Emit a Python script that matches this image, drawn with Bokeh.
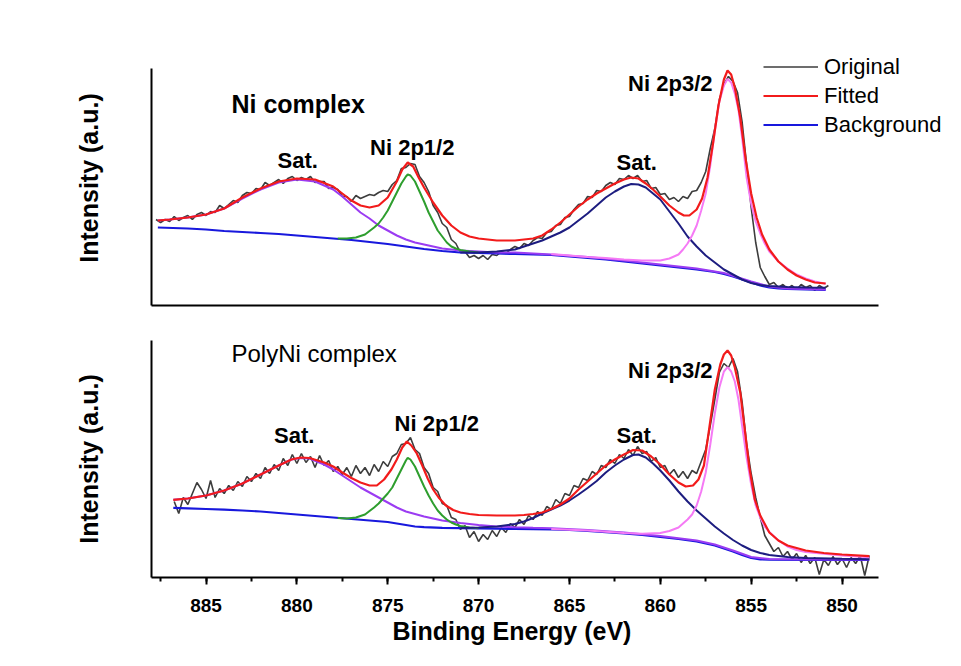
import numpy as np
from bokeh.plotting import figure
from bokeh.models import Range1d, Label, Legend, LegendItem, FixedTicker, SingleIntervalTicker, Title
from bokeh.layouts import column
from bokeh.embed import file_html
from bokeh.resources import INLINE

FONT = "Liberation Sans"

# ---------------- data (binding energy in eV, intensity in a.u.) ----------------
# Top panel: Ni complex
TOP_ORIG_START, TOP_ORIG_END = 887.75, 850.75
TOP_ORIG = [
    86, 83, 86, 84, 89, 85, 88, 90, 86, 91,
    93, 90, 94, 93, 100, 97, 101, 105, 103, 110,
    113, 112, 117, 116, 123, 120, 123, 126, 122, 127,
    129, 125, 128, 126, 129, 123, 124, 124, 117, 118,
    116, 109, 109, 104, 110, 107, 109, 111, 110, 113,
    115, 114, 121, 125, 137, 138, 142, 141, 129, 123,
    114, 100, 93, 82, 78, 66, 62, 53, 54, 48,
    50, 47, 50, 46, 51, 50, 54, 52, 56, 59,
    57, 62, 60, 65, 68, 67, 73, 74, 80, 81,
    88, 89, 96, 101, 102, 109, 108, 115, 114, 120,
    123, 121, 127, 126, 130, 127, 130, 124, 125, 117,
    118, 111, 112, 106, 108, 104, 109, 107, 114, 115,
    123, 134, 157, 177, 206, 221, 229, 224, 213, 184,
    141, 98, 63, 38, 29, 21, 23, 18, 21, 17,
    20, 16, 21, 18, 20, 15, 20, 17, 20,
]

TOP_BG_E = [887.65, 886, 885, 884, 883, 882, 881, 880, 879, 878, 877, 876, 875, 874, 873, 872, 871, 870,
            869, 868, 867, 866, 865, 864, 863, 862, 861, 860, 859, 858, 857, 856.5, 856, 855.5, 855,
            854.5, 854, 853.5, 853, 852, 850.9]
TOP_BG_Y = [78, 77, 76, 74.5, 73.5, 72.5, 71.5, 70, 68.5, 67, 65.5, 63.5, 61.5, 59, 56.5, 54.5, 53, 52.5,
            52, 51.5, 51, 50.5, 49, 47.5, 46, 44, 42, 40, 38, 36, 33.5, 31.5, 29, 26, 23,
            20, 18, 17, 16.5, 16, 15.7]

TOP_FIT_E = [887.65, 887, 886, 885, 884, 883, 882, 881, 880, 879, 878, 877.5, 877, 876.5, 876, 875.5, 875,
             874.5, 874.2, 873.9, 873.6, 873.3, 873, 872.5, 872, 871.5, 871, 870.5, 870, 869, 868, 867,
             866.5, 866, 865.5, 865, 864.5, 864, 863.5, 863, 862.5, 862, 861.6, 861.2, 860.8, 860.4, 860,
             859.5, 859, 858.7, 858.4, 858, 857.7, 857.4, 857.1, 856.8, 856.5, 856.3, 856.1, 855.9, 855.6,
             855.3, 855, 854.7, 854.4, 854, 853.5, 853, 852.5, 852, 851.5, 850.9]
TOP_FIT_Y = [85, 86, 88, 91, 97, 108, 117, 124, 127, 126, 119, 112, 105, 100, 98, 100, 108,
             124, 136, 143, 139, 128, 118, 103, 90, 80, 73, 69, 67, 65, 65, 67,
             70, 76, 83, 91, 99, 106, 112, 117, 122, 126, 128, 127, 122, 116, 109,
             100, 93, 90, 90, 96, 107, 128, 162, 200, 226, 235, 231, 218, 188,
             146, 112, 88, 71, 56, 44, 36, 30, 26, 23, 22]

TOP_SAT1_E = [887.65, 887, 886, 885, 884, 883, 882, 881, 880, 879, 878, 877.5, 877, 876.5, 876, 875.5, 875,
              874.5, 874, 873.5, 873, 872.5, 872, 871, 870, 869, 868, 867, 866, 864, 862, 860, 858, 856.5,
              855, 854, 853, 850.9]
TOP_SAT1_Y = [85, 86, 88, 91, 97, 107, 116, 123, 126, 124, 116, 109, 101, 93, 87, 80, 75,
              70, 66, 63, 61, 59, 57, 55, 54, 53, 53, 52, 51, 48.5, 45, 41, 37, 32.5,
              24, 19, 17, 16]

TOP_P12_E = [877.75, 877.25, 876.75, 876.25, 875.75, 875.5, 875.25, 875, 874.75, 874.5, 874.25, 874, 873.9,
             873.75, 873.5, 873.25, 873, 872.75, 872.5, 872.25, 872, 871.75, 871.5, 871.25, 871, 870.5, 870]
TOP_P12_Y = [67, 67, 68, 71, 78, 82, 88, 95, 104, 113, 122, 129, 131,
             130, 124, 114, 104, 93, 84, 75, 69, 63, 59, 57, 55.5, 54, 53]

TOP_SAT2_E = [871, 870, 869, 868, 867.5, 867, 866.5, 866, 865.5, 865, 864.5, 864, 863.5, 863, 862.5, 862,
              861.6, 861.2, 860.8, 860.4, 860, 859.5, 859, 858.5, 858, 857.5, 857, 856.5, 856, 855.5, 855,
              854.5, 854, 853, 852, 850.9]
TOP_SAT2_Y = [53, 53, 54, 56, 59, 62, 65, 69, 73, 78, 85, 92, 100, 108, 114, 119,
              121.5, 121, 118, 112, 106, 94, 82, 69, 59, 50, 43, 36, 31, 26, 22.5,
              20.5, 19.5, 18.5, 18, 17.7]

TOP_P32_E = [866, 865, 864, 863, 862, 861, 860, 859.5, 859, 858.75, 858.5, 858.25, 858, 857.75, 857.5,
             857.25, 857, 856.75, 856.5, 856.3, 856.1, 855.9, 855.7, 855.5, 855.25, 855, 854.75, 854.5,
             854.25, 854, 853.5, 853, 852.5, 852, 851.5, 850.9]
TOP_P32_Y = [51.5, 50, 48.5, 47.5, 46, 45, 45, 47, 51, 56, 62, 70, 80, 95, 112,
             140, 175, 204, 220, 226.5, 223, 212, 196, 168, 128, 102, 84, 72,
             62, 54, 44, 37, 31, 27, 24, 21.7]

# Bottom panel: PolyNi complex
BOT_ORIG_START, BOT_ORIG_END = 886.75, 848.5
BOT_ORIG = [
    76, 64, 80, 73, 84, 95, 88, 79, 97, 80,
    89, 84, 92, 87, 96, 91, 101, 96, 104, 99,
    110, 104, 113, 107, 119, 112, 123, 114, 124, 115,
    121, 110, 122, 112, 117, 106, 111, 103, 110, 101,
    112, 104, 110, 102, 113, 106, 116, 111, 121, 124,
    133, 134, 140, 128, 124, 110, 104, 90, 86, 74,
    72, 60, 58, 48, 52, 40, 46, 36, 43, 38,
    47, 41, 50, 45, 54, 50, 58, 53, 62, 58,
    66, 62, 71, 68, 78, 74, 84, 82, 92, 90,
    99, 97, 106, 103, 112, 110, 118, 114, 123, 119,
    128, 122, 131, 124, 126, 116, 120, 110, 112, 103,
    108, 100, 106, 99, 107, 104, 116, 128, 152, 178,
    205, 214, 210, 219, 206, 176, 134, 104, 80, 60,
    42, 34, 26, 30, 21, 26, 18, 24, 15, 22,
    14, 20, 3, 18, 12, 21, 13, 19, 10, 20,
    14, 22, 2, 22,
]

BOT_BG_E = [886.8, 886, 885, 884, 883, 882, 881, 880, 879, 878, 877, 876, 875, 874.5, 874, 873.5, 873, 872,
            871, 870, 869, 868, 867, 866, 865, 864, 863, 862, 861, 860, 859, 858, 857, 856.5, 856, 855.5,
            855, 854.5, 854, 852, 848.5]
BOT_BG_Y = [69.7, 69.2, 68.5, 67.8, 67, 66, 64.5, 63, 61.5, 60, 58.5, 57, 55.5, 54, 52.5, 51, 50.3, 49.7,
            49.3, 49, 48.8, 48.6, 48.3, 48, 47.5, 46.5, 45.3, 44, 42.5, 40.5, 38.5, 36, 32, 29, 26, 22.5,
            19.5, 18.2, 17.8, 17.7, 17.7]

BOT_FIT_E = [886.8, 886, 885, 884, 883, 882, 881, 880.3, 879.8, 879.3, 878.5, 878, 877.5, 877, 876.5, 876,
             875.6, 875.2, 874.8, 874.5, 874.2, 873.95, 873.7, 873.4, 873.1, 872.8, 872.5, 872.2, 871.8,
             871.4, 871, 870.5, 870, 869, 868, 867.5, 867, 866.5, 866, 865.5, 865, 864.5, 864, 863.5, 863,
             862.5, 862, 861.5, 861, 860.5, 860, 859.5, 859, 858.6, 858.2, 857.9, 857.6, 857.3, 857, 856.7,
             856.5, 856.3, 856.1, 855.9, 855.6, 855.4, 855.1, 854.8, 854.5, 854, 853.5, 853, 852, 851, 850,
             848.5]
BOT_FIT_Y = [77.7, 79, 82, 87, 94, 103, 112, 118, 120, 119.5, 115, 111, 105, 99.5, 95, 92,
             92, 98, 108, 118, 130, 136, 132, 124, 112, 99, 88, 80, 72,
             67.5, 65, 63.5, 62.5, 62, 62, 62.5, 63.5, 65, 68.5, 73, 79, 88, 96, 104, 112,
             118, 123, 127.5, 127, 121, 113, 103, 95, 91, 92, 98, 112, 150, 188, 213,
             223, 227, 222, 210, 185, 155, 110, 78, 62, 45, 37, 32, 27, 24.5, 23,
             21.3]

BOT_SAT1_E = [886.8, 886, 885, 884, 883, 882, 881, 880.3, 879.8, 879.3, 878.5, 878, 877.5, 877, 876.5, 876,
              875.5, 875, 874.5, 874, 873.5, 873, 872.5, 872, 871, 870, 869, 868, 867, 866, 864, 862, 860,
              858, 857, 856, 855, 854, 852, 848.5]
BOT_SAT1_Y = [77.7, 79, 82, 87, 94, 103, 112, 118, 119.5, 119, 113, 108, 102, 96, 90, 85,
              80, 75, 70, 66, 63.5, 61, 59, 57, 54.5, 52.5, 51, 50.3, 49.7, 49.2, 47.5, 45, 41.5,
              37, 33, 27, 20.5, 18.5, 18, 17.9]

BOT_P12_E = [877.75, 877.25, 876.75, 876.25, 875.75, 875.5, 875.25, 875, 874.75, 874.5, 874.25, 874, 873.9,
             873.75, 873.5, 873.25, 873, 872.75, 872.5, 872.25, 872, 871.75, 871.5, 871.25, 871, 870.5, 870]
BOT_P12_Y = [59.5, 59, 60, 63, 70, 74, 79, 84, 90, 99, 108, 117, 119.7,
             118, 111, 101, 91, 82, 74, 67, 62, 58, 55, 53, 51.5, 50, 49.2]

BOT_SAT2_E = [871, 870, 869, 868, 867.5, 867, 866.5, 866, 865.5, 865, 864.5, 864, 863.5, 863, 862.5, 862,
              861.5, 861.2, 860.8, 860.4, 860, 859.5, 859, 858.5, 858, 857.5, 857, 856.5, 856, 855.5, 855,
              854.5, 854, 853, 852, 850, 848.5]
BOT_SAT2_Y = [49.5, 50, 51, 53.5, 56, 59.5, 64, 68, 72, 77, 83, 89.5, 96.5, 105, 112, 118,
              122.5, 123, 120, 114, 107, 97, 86, 76, 67, 59, 51, 44, 37.5, 32, 27.5,
              24.5, 22.5, 20.5, 19.5, 18.7, 18.3]

BOT_P32_E = [866, 865, 864, 863, 862, 861, 860, 859.5, 859, 858.75, 858.5, 858.25, 858, 857.75, 857.5,
             857.25, 857, 856.75, 856.5, 856.3, 856.1, 855.9, 855.7, 855.5, 855.25, 855, 854.75, 854.5,
             854.25, 854, 853.5, 853, 852.5, 852, 851, 850, 848.5]
BOT_P32_Y = [48.5, 47.8, 47, 45.8, 44.5, 43.7, 44.5, 46.5, 50, 54, 58, 63, 72, 86, 105,
             133, 164, 190, 206, 210.3, 206, 196, 178, 152, 120, 93, 72, 60,
             51, 45.5, 37, 31, 27.5, 25.5, 23.7, 22, 20.3]

X_AXIS_BOUNDS = (848, 888)
X_TICKS_INTERVAL = 5
Y_AXIS_BOUNDS = (0, 237)
LEGEND_LABELS = ["Original", "Fitted", "Background"]
X_TITLE = "Binding Energy (eV)"
Y_TITLE = "Intensity (a.u.)"

# ---------------- styles ----------------
C_ORIG = "#3d3d3d"
C_FIT = "#f21b1b"
C_BG = "#1818dd"
C_SAT1 = "#9b3cf2"
C_P12 = "#2e9e2e"
C_SAT2 = "#1d1d80"
C_P32 = "#f57af5"

# frame spans page x 151..952 ; 18.17 px per eV, 888 eV at the left edge
x_range = Range1d(888, 843.92)


def pair(e, y):
    n = min(len(e), len(y))
    return list(e[:n]), list(y[:n])


def make_fig(height, top, bottom, ytop):
    p = figure(width=956, height=height, x_range=x_range, y_range=Range1d(0, ytop),
               output_backend="svg", toolbar_location=None,
               min_border_left=151, min_border_right=4,
               min_border_top=top, min_border_bottom=bottom)
    p.xgrid.visible = False
    p.ygrid.visible = False
    p.outline_line_color = None
    p.background_fill_color = "white"
    p.border_fill_color = "white"
    ya = p.yaxis[0]
    ya.bounds = Y_AXIS_BOUNDS
    ya.ticker = FixedTicker(ticks=[], minor_ticks=[])
    ya.major_label_standoff = 0
    ya.major_tick_out = 0
    ya.major_tick_in = 0
    ya.minor_tick_out = 0
    ya.axis_line_width = 2
    ya.axis_line_color = "black"
    ya.axis_label = Y_TITLE
    ya.axis_label_text_font = FONT
    ya.axis_label_text_font_style = "bold"
    ya.axis_label_text_font_size = "25px"
    ya.axis_label_text_color = "black"
    ya.axis_label_standoff = 49
    return p


def draw(p, orig_start, orig_end, orig, bg, sat1, p12, sat2, p32, fit):
    ox = np.linspace(orig_start, orig_end, len(orig))
    r_orig = p.line(ox, orig, line_color=C_ORIG, line_width=1.6)
    r_bg = p.line(*pair(*bg), line_color=C_BG, line_width=2.2)
    p.line(*pair(*sat1), line_color=C_SAT1, line_width=2)
    p.line(*pair(*p12), line_color=C_P12, line_width=2)
    p.line(*pair(*sat2), line_color=C_SAT2, line_width=2)
    p.line(*pair(*p32), line_color=C_P32, line_width=2)
    r_fit = p.line(*pair(*fit), line_color=C_FIT, line_width=2.2)
    return r_orig, r_fit, r_bg


def label(p, x, y, text, size="22px", bold=True, align="center"):
    p.add_layout(Label(x=x, y=y, text=text, text_align=align, text_baseline="middle",
                       text_font=FONT, text_font_size=size,
                       text_font_style="bold" if bold else "normal", text_color="black"))


# ---------------- top panel ----------------
p1 = make_fig(320, 50, 15, 255)
xa = p1.xaxis[0]
xa.bounds = X_AXIS_BOUNDS
xa.ticker = FixedTicker(ticks=[], minor_ticks=[])
xa.major_label_standoff = 0
xa.major_tick_out = 0
xa.axis_line_width = 2
xa.axis_line_color = "black"

ro, rf, rb = draw(p1, TOP_ORIG_START, TOP_ORIG_END, TOP_ORIG,
                  (TOP_BG_E, TOP_BG_Y), (TOP_SAT1_E, TOP_SAT1_Y), (TOP_P12_E, TOP_P12_Y),
                  (TOP_SAT2_E, TOP_SAT2_Y), (TOP_P32_E, TOP_P32_Y), (TOP_FIT_E, TOP_FIT_Y))

label(p1, 883.6, 202, "Ni complex", size="25px", align="left")
label(p1, 879.95, 145, "Sat.")
label(p1, 873.65, 158, "Ni 2p1/2")
label(p1, 861.3, 143, "Sat.")
label(p1, 859.45, 222, "Ni 2p3/2")

legend = Legend(items=[LegendItem(label=LEGEND_LABELS[0], renderers=[ro]),
                       LegendItem(label=LEGEND_LABELS[1], renderers=[rf]),
                       LegendItem(label=LEGEND_LABELS[2], renderers=[rb])],
                location=(612, 166), orientation="vertical",
                label_text_font=FONT, label_text_font_size="22px", label_text_color="black",
                glyph_width=55, glyph_height=29, label_height=29, label_standoff=6,
                spacing=0, padding=0, margin=0,
                border_line_color=None, background_fill_alpha=0)
p1.add_layout(legend)

# ---------------- bottom panel ----------------
p2 = make_fig(341, 20, 84, 237)
xb = p2.xaxis[0]
xb.bounds = X_AXIS_BOUNDS
xb.ticker = SingleIntervalTicker(interval=X_TICKS_INTERVAL, num_minor_ticks=2)
xb.axis_line_width = 2
xb.axis_line_color = "black"
xb.major_tick_line_width = 2
xb.minor_tick_line_width = 2
xb.major_tick_out = 7
xb.major_tick_in = 0
xb.minor_tick_out = 4
xb.minor_tick_in = 0
xb.major_label_standoff = 14
xb.major_label_text_font = FONT
xb.major_label_text_font_style = "bold"
xb.major_label_text_font_size = "19px"
xb.major_label_text_color = "black"

# axis title centred under the drawn axis (848..888 eV), not under the whole frame
p2.add_layout(Title(text=X_TITLE, align="left", offset=241, standoff=0,
                    text_font=FONT, text_font_style="bold", text_font_size="25px",
                    text_color="black"), "below")

draw(p2, BOT_ORIG_START, BOT_ORIG_END, BOT_ORIG,
     (BOT_BG_E, BOT_BG_Y), (BOT_SAT1_E, BOT_SAT1_Y), (BOT_P12_E, BOT_P12_Y),
     (BOT_SAT2_E, BOT_SAT2_Y), (BOT_P32_E, BOT_P32_Y), (BOT_FIT_E, BOT_FIT_Y))

label(p2, 883.6, 224, "PolyNi complex", size="24px", bold=False, align="left")
label(p2, 880.15, 142, "Sat.")
label(p2, 872.3, 154, "Ni 2p1/2")
label(p2, 861.3, 142, "Sat.")
label(p2, 859.45, 207, "Ni 2p3/2")

layout = column(p1, p2)
open("out.html", "w").write(file_html(layout, INLINE))
